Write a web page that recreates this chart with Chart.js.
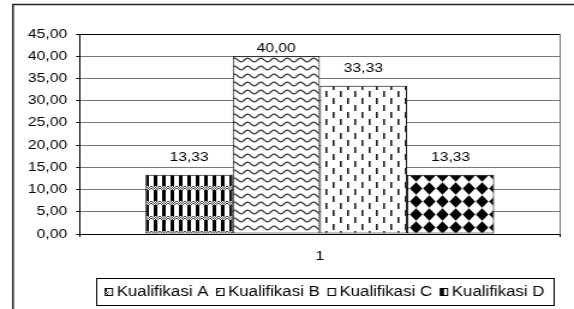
<!DOCTYPE html>
<html>
<head>
<meta charset="utf-8">
<script src="https://cdn.jsdelivr.net/npm/chart.js@4/dist/chart.umd.min.js"></script>
<style>
  html, body { margin: 0; padding: 0; background: #fff; overflow: hidden; }
  /* the original picture is stretched sideways, so draw narrow and widen it */
  #wrap { width: 478px; height: 309px; transform: scaleX(1.2008); transform-origin: 0 0; }
</style>
</head>
<body>
<div id="wrap"><canvas id="chart" width="478" height="309"></canvas></div>
<script>
const categories = ['1'];
const seriesNames = ['Kualifikasi A', 'Kualifikasi B', 'Kualifikasi C', 'Kualifikasi D'];
const seriesValues = [13.33, 40.00, 33.33, 13.33];
const yTickValues = [0, 5, 10, 15, 20, 25, 30, 35, 40, 45];

const FONT = '"Liberation Sans", Arial, sans-serif';
const fmt = v => Number(v).toFixed(2).replace('.', ',');

function makePattern(w, h, draw) {
    const c = document.createElement('canvas');
    c.width = w;
    c.height = h;
    const g = c.getContext('2d');
    g.fillStyle = '#fff';
    g.fillRect(0, 0, w, h);
    draw(g, w, h);
    return g.createPattern(c, 'repeat');
}

// A: black columns crossed by grey dotted bands
const patA = makePattern(7, 15, (g, w, h) => {
    g.fillStyle = '#000';
    g.fillRect(2, 0, 3, h);
    g.fillStyle = '#fff';
    g.fillRect(0, 6, w, 4);
    g.fillStyle = '#444';
    for (let y = 6; y < 10; y++) {
        for (let x = 0; x < w; x++) {
            if ((x + y) % 2 === 0) g.fillRect(x, y, 1, 1);
        }
    }
});

// B: wavy lines
const patB = makePattern(11, 8, (g, w, h) => {
    g.strokeStyle = '#333';
    g.lineWidth = 1.2;
    g.beginPath();
    for (let x = -1; x <= w + 1; x += 0.5) {
        const y = 4 + 1.8 * Math.sin(2 * Math.PI * x / w);
        if (x === -1) g.moveTo(x, y); else g.lineTo(x, y);
    }
    g.stroke();
});

// C: staggered vertical dashes
const patC = makePattern(12, 14, (g) => {
    g.fillStyle = '#222';
    g.fillRect(1, 0, 1.6, 6);
    g.fillRect(7, 7, 1.6, 6);
});

// D: black diamonds
const patD = makePattern(11, 13, (g) => {
    g.fillStyle = '#000';
    g.beginPath();
    g.moveTo(5.5, 0.3);
    g.lineTo(10.7, 6.5);
    g.lineTo(5.5, 12.7);
    g.lineTo(0.3, 6.5);
    g.closePath();
    g.fill();
});

const patterns = [patA, patB, patC, patD];

const framePlugin = {
    id: 'frame',
    beforeDraw(chart) {
        const ctx = chart.ctx;
        ctx.save();
        ctx.fillStyle = '#fff';
        ctx.fillRect(0, 0, chart.width, chart.height);
        ctx.restore();
    },
    afterDraw(chart) {
        const ctx = chart.ctx;
        ctx.save();
        ctx.strokeStyle = '#222';
        ctx.lineWidth = 1.5;
        ctx.beginPath();
        ctx.moveTo(10.8, chart.height);
        ctx.lineTo(10.8, 4.5);
        ctx.lineTo(chart.width, 4.5);
        ctx.stroke();
        ctx.restore();
    }
};

const valueLabels = {
    id: 'valueLabels',
    afterDatasetsDraw(chart) {
        const ctx = chart.ctx;
        ctx.save();
        ctx.font = '13px ' + FONT;
        ctx.fillStyle = '#000';
        ctx.textAlign = 'center';
        ctx.textBaseline = 'middle';
        chart.data.datasets.forEach((ds, i) => {
            chart.getDatasetMeta(i).data.forEach((bar, j) => {
                const y = Math.max(bar.y - 17, chart.chartArea.top + 14);
                ctx.fillText(fmt(ds.data[j]), bar.x, y);
            });
        });
        ctx.restore();
    }
};

const boxLegend = {
    id: 'boxLegend',
    afterDraw(chart) {
        const ctx = chart.ctx;
        const box = { x: 80, y: 278, w: 381, h: 27 };
        ctx.save();
        ctx.strokeStyle = '#000';
        ctx.lineWidth = 1;
        ctx.strokeRect(box.x + 0.5, box.y + 0.5, box.w, box.h);
        ctx.font = '14px ' + FONT;
        ctx.textBaseline = 'middle';
        const sw = 6, gapText = 3.5, gapItem = 7;
        const widths = chart.data.datasets.map(ds => ctx.measureText(ds.label).width);
        const total = widths.reduce((a, b) => a + b, 0) + widths.length * (sw + gapText) + (widths.length - 1) * gapItem;
        let x = box.x + (box.w - total) / 2;
        const cy = box.y + box.h / 2 + 0.5;
        chart.data.datasets.forEach((ds, i) => {
            ctx.fillStyle = '#fff';
            ctx.fillRect(x, cy - 3.5, sw, 7);
            ctx.fillStyle = ds.backgroundColor;
            ctx.fillRect(x, cy - 3.5, sw / 2, 7);
            ctx.strokeStyle = '#000';
            ctx.lineWidth = 1;
            ctx.strokeRect(x, cy - 3.5, sw, 7);
            ctx.fillStyle = '#000';
            ctx.fillText(ds.label, x + sw + gapText, cy);
            x += sw + gapText + widths[i] + gapItem;
        });
        ctx.restore();
    }
};

new Chart(document.getElementById('chart'), {
    type: 'bar',
    data: {
        labels: categories,
        datasets: seriesNames.map((name, i) => ({
            label: name,
            data: [seriesValues[i]],
            backgroundColor: patterns[i],
            borderColor: '#000',
            borderWidth: 1,
            borderSkipped: false
        }))
    },
    options: {
        responsive: false,
        animation: false,
        devicePixelRatio: 1,
        layout: { padding: { top: 34, right: 12, left: 0, bottom: 0 } },
        datasets: { bar: { categoryPercentage: 0.727, barPercentage: 1 } },
        plugins: {
            legend: { display: false },
            tooltip: { enabled: false }
        },
        scales: {
            x: {
                grid: { color: '#777', offset: true, tickLength: 3, tickColor: '#000' },
                border: { color: '#000' },
                ticks: { color: '#000', padding: 12, font: { family: FONT, size: 13 } },
                afterFit: s => { s.height = 75; }
            },
            y: {
                min: 0,
                max: 45,
                afterBuildTicks: s => { s.ticks = yTickValues.map(v => ({ value: v })); },
                ticks: {
                    color: '#000',
                    padding: 7.5,
                    font: { family: FONT, size: 13 },
                    callback: v => fmt(v)
                },
                grid: {
                    color: c => (c.tick && c.tick.value === 45 ? '#000' : '#777'),
                    tickLength: 3.3,
                    tickColor: '#000'
                },
                border: { color: '#000' },
                afterFit: s => { s.width = 66.7; }
            }
        }
    },
    plugins: [framePlugin, valueLabels, boxLegend]
});
</script>
</body>
</html>
